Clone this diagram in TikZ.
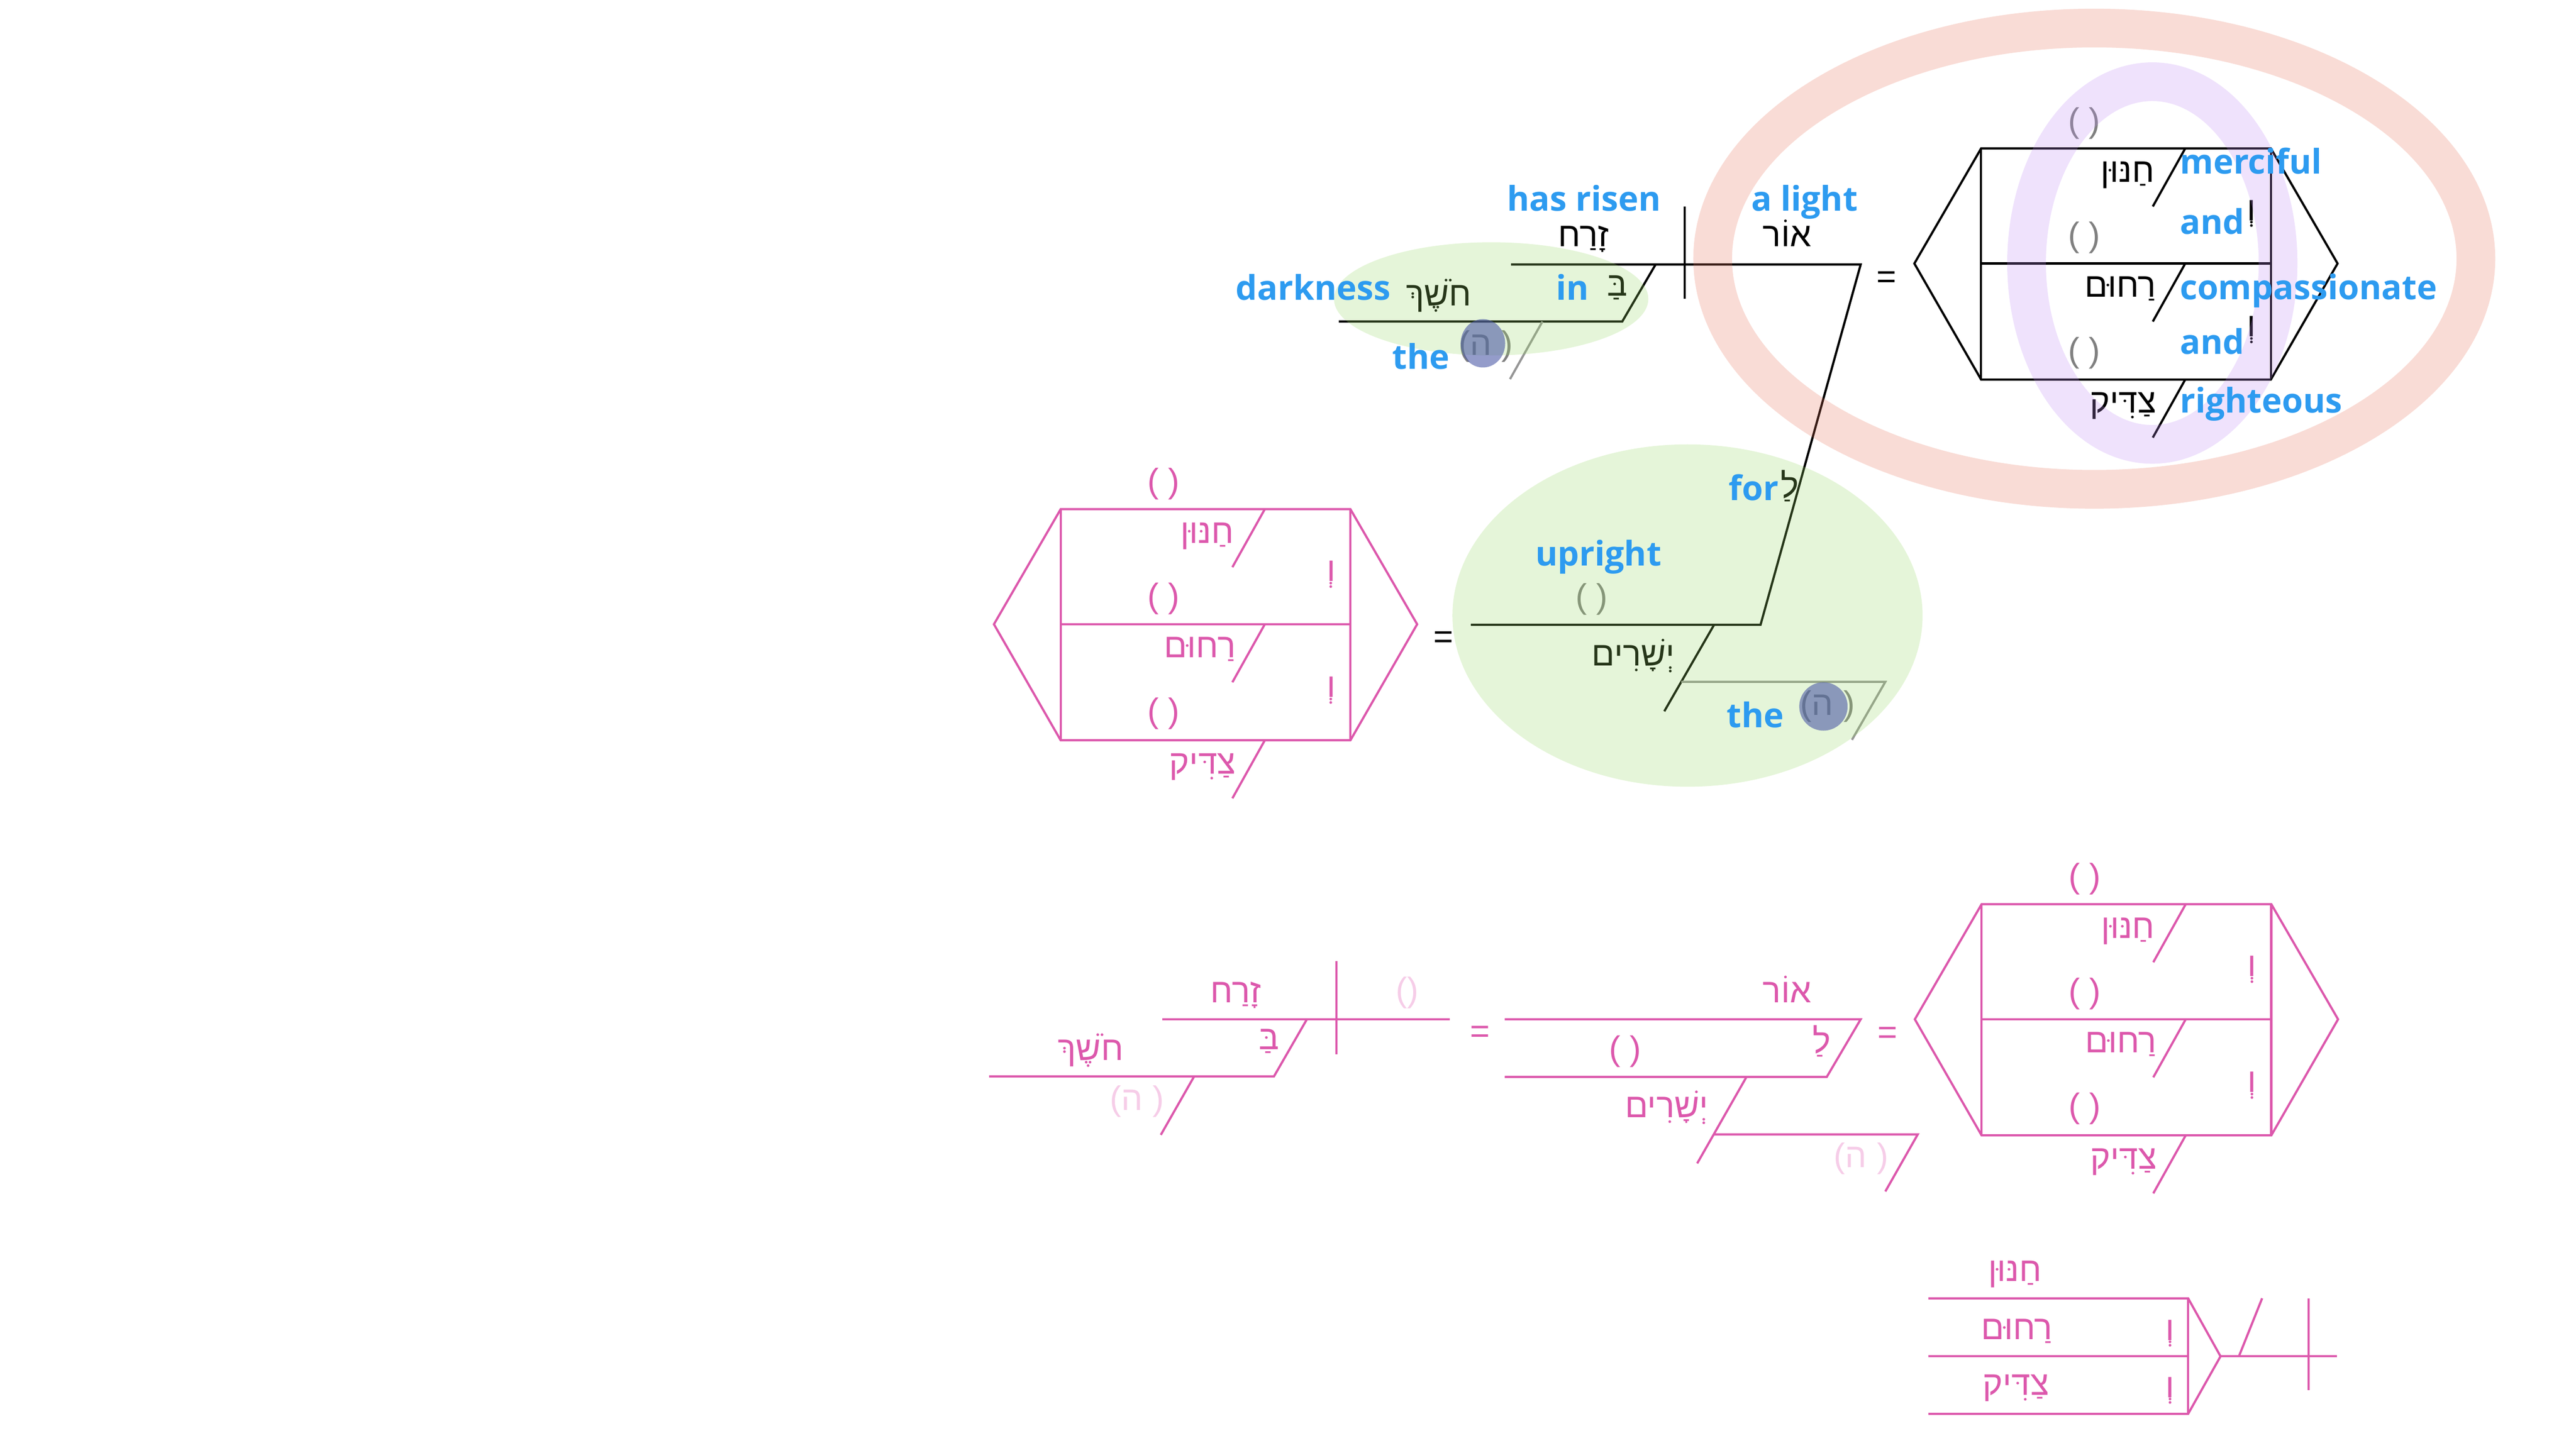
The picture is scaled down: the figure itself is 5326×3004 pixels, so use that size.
\documentclass[tikz,border=0pt]{standalone}
\usepackage{fontspec}
\setmainfont{Liberation Sans}
\newfontfamily\hebfont[Script=Hebrew]{Liberation Sans}
\newfontfamily\engfont{Open Sans}
\TeXXeTstate=1

\definecolor{labelblue}{RGB}{45,155,240}
\definecolor{diapink}{RGB}{220,88,172}
\definecolor{palepink}{RGB}{246,205,232}
\definecolor{parengray}{RGB}{128,128,128}
\definecolor{linegray}{RGB}{150,150,150}
\definecolor{hlgreen}{RGB}{153,217,102}
\definecolor{hlred}{RGB}{230,115,90}
\definecolor{hlpurple}{RGB}{190,140,242}
\definecolor{hlblue}{RGB}{77,90,166}

\begin{document}
\begin{tikzpicture}[
		x=0.01cm, y=-0.01cm,
		every node/.style={inner sep=0pt, outer sep=0pt},
		heb/.style={font=\hebfont\fontsize{20}{24}\selectfont, anchor=base},
		eng/.style={font=\engfont\bfseries\fontsize{20}{24}\selectfont, text=labelblue, anchor=base},
		brk/.style={font=\normalfont\fontsize{20}{24}\selectfont},
		ln/.style={line width=1.3pt},
		glow/.style={fill=hlgreen, fill opacity=0.25},
		ring/.style={line width=0.8cm, draw opacity=0.25}
	]
  \useasboundingbox (0,0) rectangle (5326,3004);

  % first diagram
  \coordinate (m1) at (3124,547);
  \coordinate (m2) at (3847,547);
  \coordinate (d1) at (3483,427);
  \coordinate (d2) at (3483,618);
  \coordinate (s1) at (3423,547);
  \coordinate (s2) at (3354,665);
  \coordinate (k1) at (2768,665);
  \coordinate (h1) at (3189,665);
  \coordinate (h2) at (3122,784);
  \coordinate (f2) at (3640,1292);
  \coordinate (u1) at (3041,1292);
  \coordinate (y1) at (3544,1292);
  \coordinate (y2) at (3441,1471);
  \coordinate (g1) at (3476,1410);
  \coordinate (g2) at (3898,1410);
  \coordinate (g3) at (3829,1530);

  \draw[ln] (m1) -- (m2) -- (f2) -- (u1);
  \draw[ln] (d1) -- (d2);
  \draw[ln] (s1) -- (s2) -- (k1);
  \draw[ln] (y1) -- (y2);
  \draw[ln, linegray] (h1) -- (h2);
  \draw[ln, linegray] (g1) -- (g2) -- (g3);

  \node (zarach) [heb] at (3274,510) {\beginR זָרַח\endR};
  \node (or) [heb] at (3695,510) {\beginR אוֹר\endR};
  \node (be) [heb] at (3344,612) {\beginR בַּ\endR};
  \node (choshek) [heb] at (2975,632) {\beginR חֹשֶׁךְ\endR};
  \node (ha1) [brk, text=parengray] at (3072,716) {(\hbox{\hebfont ה}\hspace{0.3em})};
  \node (le) [heb] at (3700,1030) {\beginR לַ\endR};
  \node (pu) [brk, text=parengray] at (3291,1239) {( )};
  \node (yesharim) [heb] at (3377,1377) {\beginR יְשָׁרִים\endR};
  \node (ha2) [brk, text=parengray] at (3779,1461) {(\hbox{\hebfont ה}\hspace{0.3em})};
  \node (eq1) [brk] at (3901,579) {=};
  \node (eq2) [brk] at (2984,1323) {=};

  % hexagons
  \foreach \h/\hx/\hy/\hc/\pc in {a/4096/307/black/parengray, b/2193/1053/diapink/diapink, c/4097/1870/diapink/diapink} {
    \begin{scope}[shift={(\hx,\hy)}, color=\hc]
      \coordinate (\h-l) at (-138,238);
      \coordinate (\h-tl) at (0,0);
      \coordinate (\h-tr) at (599,0);
      \coordinate (\h-r) at (737,238);
      \coordinate (\h-bl) at (0,478);
      \coordinate (\h-br) at (599,478);
      \coordinate (\h-ml) at (0,238);
      \coordinate (\h-mr) at (599,238);
      \draw[ln] (\h-l) -- (\h-tl) -- (\h-tr) -- (\h-r) -- (\h-br) -- (\h-bl) -- cycle;
      \draw[ln] (\h-tl) -- (\h-bl) (\h-tr) -- (\h-br) (\h-ml) -- (\h-mr);
      \foreach \ky in {0,238,478}
        \draw[ln] (422,\ky) -- (355,\ky+120);
      \node (\h-chanun) [heb, anchor=base east] at (358,70) {\beginR חַנּוּן\endR};
      \node (\h-rachum) [heb, anchor=base east] at (362,307) {\beginR רַחוּם\endR};
      \node (\h-tsadik) [heb, anchor=base east] at (362,547) {\beginR צַדִּיק\endR};
      \node (\h-v1) [heb] at (559,149) {\beginR וְ\endR};
      \node (\h-v2) [heb] at (559,389) {\beginR וְ\endR};
      \node (\h-p1) [brk, text=\pc] at (213,-52) {( )};
      \node (\h-p2) [brk, text=\pc] at (213,185) {( )};
      \node (\h-p3) [brk, text=\pc] at (213,423) {( )};
    \end{scope}
  }

  % third diagram
  \begin{scope}[color=diapink]
    \coordinate (zm1) at (2403,2108);
    \coordinate (zm2) at (2997,2108);
    \coordinate (zd1) at (2763,1988);
    \coordinate (zd2) at (2763,2180);
    \coordinate (zs1) at (2702,2108);
    \coordinate (zs2) at (2634,2226);
    \coordinate (zk1) at (2045,2226);
    \coordinate (zh1) at (2469,2226);
    \coordinate (zh2) at (2400,2347);
    \coordinate (om1) at (3111,2108);
    \coordinate (om2) at (3847,2108);
    \coordinate (om3) at (3777,2227);
    \coordinate (ol1) at (3111,2227);
    \coordinate (oy1) at (3611,2227);
    \coordinate (oy2) at (3509,2406);
    \coordinate (og1) at (3543,2346);
    \coordinate (og2) at (3965,2346);
    \coordinate (og3) at (3898,2464);

    \draw[ln] (zm1) -- (zm2);
    \draw[ln] (zd1) -- (zd2);
    \draw[ln] (zs1) -- (zs2) -- (zk1);
    \draw[ln] (zh1) -- (zh2);
    \draw[ln] (om1) -- (om2) -- (om3) -- (ol1);
    \draw[ln] (oy1) -- (oy2);
    \draw[ln] (og1) -- (og2) -- (og3);

    \node (zarach2) [heb] at (2555,2073) {\beginR זָרַח\endR};
    \node (zp) [brk, text=palepink] at (2910,2053) {()};
    \node (be2) [heb] at (2624,2170) {\beginR בַּ\endR};
    \node (choshek2) [heb] at (2255,2193) {\beginR חֹשֶׁךְ\endR};
    \node (ha3) [brk, text=palepink] at (2351,2278) {(\hbox{\hebfont ה}\hspace{0.3em})};
    \node (or2) [heb] at (3695,2073) {\beginR אוֹר\endR};
    \node (le2) [heb] at (3767,2178) {\beginR לַ\endR};
    \node (pl) [brk] at (3360,2175) {( )};
    \node (yesharim2) [heb] at (3446,2311) {\beginR יְשָׁרִים\endR};
    \node (ha4) [brk, text=palepink] at (3848,2396) {(\hbox{\hebfont ה}\hspace{0.3em})};
    \node (eq3) [brk] at (3060,2139) {=};
    \node (eq4) [brk] at (3903,2141) {=};
  \end{scope}

  % fourth diagram
  \begin{scope}[color=diapink]
    \coordinate (r1) at (3987,2685);
    \coordinate (r2) at (4524,2685);
    \coordinate (r3) at (3987,2805);
    \coordinate (r4) at (4524,2805);
    \coordinate (r5) at (3987,2924);
    \coordinate (r6) at (4524,2924);
    \coordinate (ra) at (4591,2805);
    \coordinate (re) at (4832,2805);
    \coordinate (rs1) at (4629,2805);
    \coordinate (rs2) at (4677,2685);
    \coordinate (rv1) at (4773,2685);
    \coordinate (rv2) at (4773,2875);

    \draw[ln] (r1) -- (r2) -- (ra) -- (r6) -- (r5);
    \draw[ln] (r3) -- (r4);
    \draw[ln] (r2) -- (r6);
    \draw[ln] (ra) -- (re);
    \draw[ln] (rs1) -- (rs2);
    \draw[ln] (rv1) -- (rv2);

    \node (chanun4) [heb] at (4166,2650) {\beginR חַנּוּן\endR};
    \node (rachum4) [heb] at (4170,2770) {\beginR רַחוּם\endR};
    \node (tsadik4) [heb] at (4168,2885) {\beginR צַדִּיק\endR};
    \node (v4a) [heb] at (4487,2772) {\beginR וְ\endR};
    \node (v4b) [heb] at (4487,2890) {\beginR וְ\endR};
  \end{scope}

  % highlights
  \fill[glow] (3083,618) ellipse [x radius=325, y radius=117];
  \fill[glow] (3489,1273) ellipse [x radius=486, y radius=354];
  \draw[ring, hlred] (4330,535) ellipse [x radius=789, y radius=477];
  \draw[ring, hlpurple] (4450,544) ellipse [x radius=260, y radius=375];
  \fill[hlblue, fill opacity=0.6] (3066,710) ellipse [x radius=46, y radius=50];
  \fill[hlblue, fill opacity=0.6] (3770,1461) circle [radius=50];

  % glosses
  \node (risen) [eng] at (3275,436) {has risen};
  \node (light) [eng] at (3731,436) {a light};
  \node (in) [eng] at (3251,620) {in};
  \node (dark) [eng] at (2715,620) {darkness};
  \node (the1) [eng] at (2938,763) {the};
  \node (for) [eng] at (3626,1035) {for};
  \node (up) [eng] at (3305,1170) {upright};
  \node (the2) [eng] at (3629,1505) {the};
  \node (merciful) [eng, anchor=base west] at (4507,359) {merciful};
  \node (and1) [eng, anchor=base west] at (4507,484) {and};
  \node (compas) [eng, anchor=base west] at (4507,619) {compassionate};
  \node (and2) [eng, anchor=base west] at (4507,732) {and};
  \node (right) [eng, anchor=base west] at (4507,854) {righteous};
\end{tikzpicture}
\end{document}
